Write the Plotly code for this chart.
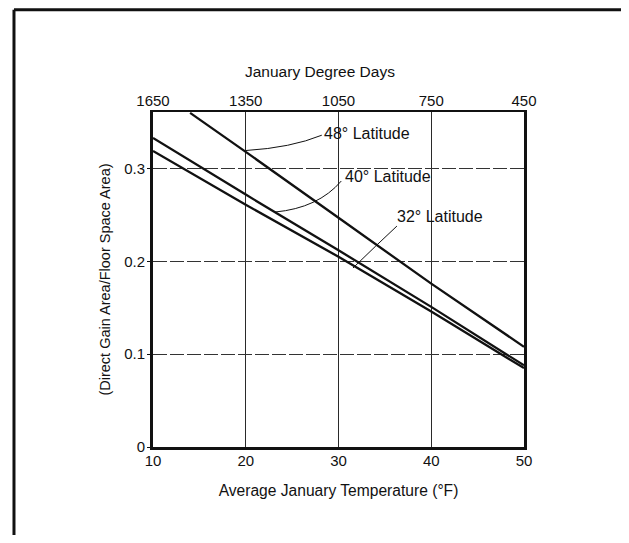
import plotly.graph_objects as go

# ---- data ----
temps = [10, 20, 30, 40, 50]                      # Average January Temperature (°F)
degree_days = [1650, 1350, 1050, 750, 450]        # January Degree Days (top axis)
temps_48 = [14, 20, 30, 40, 50]
lat48 = [0.360, 0.318, 0.247, 0.176, 0.108]
lat40 = [0.333, 0.272, 0.212, 0.151, 0.088]
lat32 = [0.319, 0.261, 0.205, 0.146, 0.085]
x_ticks = [10, 20, 30, 40, 50]
y_ticks = [0, 0.1, 0.2, 0.3]
y_tick_text = ["0", "0.1", "0.2", "0.3"]

FONT = "Liberation Sans, Arial, sans-serif"
BLACK = "#111111"

fig = go.Figure()
line_style = dict(color=BLACK, width=2.3)
fig.add_trace(go.Scatter(x=temps_48, y=lat48, mode="lines", line=line_style,
                         name="48° Latitude", showlegend=False))
fig.add_trace(go.Scatter(x=temps, y=lat40, mode="lines", line=line_style,
                         name="40° Latitude", showlegend=False))
fig.add_trace(go.Scatter(x=temps, y=lat32, mode="lines", line=line_style,
                         name="32° Latitude", showlegend=False))
# invisible trace to carry the top (degree-days) axis
fig.add_trace(go.Scatter(x=degree_days, y=[0] * len(degree_days), xaxis="x2",
                         mode="markers", marker=dict(opacity=0), hoverinfo="skip",
                         showlegend=False))

# the page body has an 8px margin, so the figure is shrunk and shifted to fit the window
fig.update_layout(
    width=613, height=527,
    margin=dict(l=145, r=97, t=104, b=88),
    paper_bgcolor="white", plot_bgcolor="white",
    font=dict(family=FONT, size=15, color=BLACK),
    showlegend=False,
    xaxis=dict(
        range=[10, 50], tickvals=x_ticks, showline=True, linecolor=BLACK, linewidth=3,
        showgrid=True, gridcolor="#2a2a2a", gridwidth=1.2, zeroline=False,
        ticks="", ticklabelstandoff=-2,
        title=dict(text="Average January Temperature (°F)", font=dict(size=15.6), standoff=18),
    ),
    xaxis2=dict(
        overlaying="x", side="top", range=[1650, 450], tickvals=degree_days,
        showline=True, linecolor=BLACK, linewidth=2, showgrid=False, zeroline=False,
        ticks="", ticklabelstandoff=-2,
    ),
    yaxis=dict(
        range=[0, 0.361], tickvals=y_ticks, ticktext=y_tick_text,
        showline=True, linecolor=BLACK, linewidth=3, mirror=True,
        showgrid=True, gridcolor="#333333", gridwidth=1, griddash="14px,3px",
        zeroline=False, ticks="outside", ticklen=3, tickcolor=BLACK, ticklabelstandoff=-1,
        title=dict(text="(Direct Gain Area/Floor Space Area)", font=dict(size=14.5), standoff=11),
    ),
)

# top axis title (sits left of the plot centre in the reference)
fig.add_annotation(text="January Degree Days", xref="paper", yref="paper",
                   x=0.45, y=1.12, xanchor="center", yanchor="middle",
                   showarrow=False, font=dict(size=15.5))

# series labels with leader curves
labels = [
    ("48° Latitude", 28.2, 0.338),
    ("40° Latitude", 30.45, 0.291),
    ("32° Latitude", 36.1, 0.248),
]
for txt, lx, ly in labels:
    fig.add_annotation(text=txt, x=lx, y=ly, xref="x", yref="y", xanchor="left",
                       yanchor="middle", showarrow=False, font=dict(size=16))

leaders = [
    "M 20.03,0.3195 Q 24.9,0.3225 28.2,0.336",
    "M 23.15,0.2532 Q 27.8,0.2575 30.3,0.2866",
    "M 31.56,0.1929 Q 34.0,0.2166 36.3,0.2381",
]
for p in leaders:
    fig.add_shape(type="path", path=p, xref="x", yref="y",
                  line=dict(color=BLACK, width=1))

# outer frame of the scanned figure
fig.add_shape(type="line", xref="paper", yref="paper", x0=-0.3747, x1=-0.3747,
              y0=-0.3, y1=1.305, line=dict(color=BLACK, width=3))
fig.add_shape(type="line", xref="paper", yref="paper", x0=-0.3747, x1=1.3,
              y0=1.305, y1=1.305, line=dict(color=BLACK, width=3))

fig.write_html("out.html")
